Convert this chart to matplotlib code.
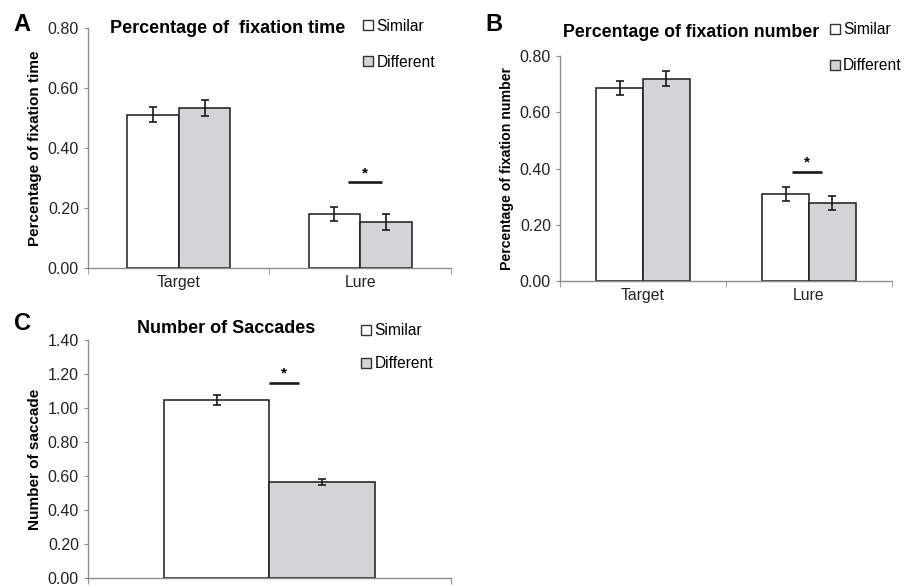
import numpy as np
import matplotlib.pyplot as plt
from matplotlib.patches import Patch
from matplotlib.ticker import FormatStrFormatter

plt.rcParams['font.family'] = ['Liberation Sans', 'DejaVu Sans']

# Panel A: percentage of fixation time
cats_a = ['Target', 'Lure']
a_sim = [0.51, 0.18]
a_sim_err = [0.025, 0.023]
a_diff = [0.533, 0.153]
a_diff_err = [0.028, 0.027]

# Panel B: percentage of fixation number
cats_b = ['Target', 'Lure']
b_sim = [0.686, 0.31]
b_sim_err = [0.025, 0.025]
b_diff = [0.72, 0.277]
b_diff_err = [0.028, 0.025]

# Panel C: number of saccades
c_sim = [1.045]
c_sim_err = [0.03]
c_diff = [0.565]
c_diff_err = [0.02]

legend_labels = ['Similar', 'Different']
sim_color = 'white'
diff_color = '#d4d4d6'
edge = '#1a1a1a'
axis_gray = '#8c8c8c'


def style_axes(ax, ymax, step):
    for s in ['top', 'right']:
        ax.spines[s].set_visible(False)
    for s in ['left', 'bottom']:
        ax.spines[s].set_color(axis_gray)
        ax.spines[s].set_linewidth(1.0)
    ax.set_ylim(0, ymax)
    ax.set_yticks(np.arange(0, ymax + 1e-9, step))
    ax.yaxis.set_major_formatter(FormatStrFormatter('%.2f'))
    ax.tick_params(axis='y', length=3, color=axis_gray, labelsize=11.5, labelcolor='#222222')
    ax.tick_params(axis='x', length=0, labelsize=11.3, labelcolor='#222222', pad=5)


def grouped(ax, cats, sim, sim_err, diff, diff_err, width):
    x = np.arange(len(cats))
    ax.bar(x - width / 2, sim, width, color=sim_color, edgecolor=edge, linewidth=1.1,
           yerr=sim_err, capsize=3, error_kw=dict(elinewidth=1.2, capthick=1.2, ecolor=edge))
    ax.bar(x + width / 2, diff, width, color=diff_color, edgecolor=edge, linewidth=1.1,
           yerr=diff_err, capsize=3, error_kw=dict(elinewidth=1.2, capthick=1.2, ecolor=edge))
    ax.set_xlim(-0.5, len(cats) - 0.5)
    ax.set_xticks(x)
    ax.set_xticklabels(cats)
    ax.set_xticks(np.arange(-0.5, len(cats)), minor=True)
    ax.tick_params(axis='x', which='minor', length=4, color=axis_gray, direction='out')


def sig(ax, x0, x1, y, star_dy):
    ax.plot([x0, x1], [y, y], color=edge, lw=1.9, solid_capstyle='butt')
    ax.text((x0 + x1) / 2, y + star_dy, '*', ha='center', va='bottom', fontsize=11, fontweight='bold')


def legend(fig, x, y, spacing):
    handles = [Patch(facecolor=sim_color, edgecolor='#333333', linewidth=1.0),
               Patch(facecolor=diff_color, edgecolor='#333333', linewidth=1.0)]
    fig.legend(handles, legend_labels, loc='upper left', bbox_to_anchor=(x, y),
               frameon=False, fontsize=11.2, handlelength=0.65, handleheight=0.65,
               handletextpad=0.2, labelspacing=spacing, borderaxespad=0, borderpad=0)


fig = plt.figure(figsize=(9.1, 5.86), dpi=100)

# A
axA = fig.add_axes([0.0967, 0.5427, 0.3989, 0.4096])
grouped(axA, cats_a, a_sim, a_sim_err, a_diff, a_diff_err, 0.285)
style_axes(axA, 0.8, 0.2)
axA.set_ylabel('Percentage of fixation time', fontsize=11, fontweight='bold', labelpad=4)
sig(axA, 0.93, 1.12, 0.287, 0.006)
fig.text(0.121, 0.952, 'Percentage of  fixation time', fontsize=13, fontweight='bold', va='center')
fig.text(0.015, 0.958, 'A', fontsize=17, fontweight='bold', va='center')
legend(fig, 0.399, 0.968, 1.35)

# B
axB = fig.add_axes([0.6154, 0.5205, 0.3648, 0.3839])
grouped(axB, cats_b, b_sim, b_sim_err, b_diff, b_diff_err, 0.283)
style_axes(axB, 0.8, 0.2)
axB.set_ylabel('Percentage of fixation number', fontsize=10.2, fontweight='bold', labelpad=4)
sig(axB, 0.9, 1.08, 0.386, 0.012)
fig.text(0.619, 0.945, 'Percentage of fixation number', fontsize=12.8, fontweight='bold', va='center')
fig.text(0.533, 0.958, 'B', fontsize=17, fontweight='bold', va='center')
legend(fig, 0.912, 0.962, 1.35)

# C
axC = fig.add_axes([0.0967, 0.0137, 0.3989, 0.4061])
x = np.arange(1)
w = 0.58
axC.bar(x - w / 2, c_sim, w, color=sim_color, edgecolor=edge, linewidth=1.1,
        yerr=c_sim_err, capsize=3, error_kw=dict(elinewidth=1.2, capthick=1.2, ecolor=edge))
axC.bar(x + w / 2, c_diff, w, color=diff_color, edgecolor=edge, linewidth=1.1,
        yerr=c_diff_err, capsize=3, error_kw=dict(elinewidth=1.2, capthick=1.2, ecolor=edge))
axC.set_xlim(-1, 1)
style_axes(axC, 1.4, 0.2)
axC.set_xticks([-1, 1])
axC.set_xticklabels([])
axC.tick_params(axis='x', length=4, color=axis_gray)
axC.set_ylabel('Number of saccade', fontsize=11, fontweight='bold', labelpad=4)
sig(axC, 0.0, 0.16, 1.147, 0.012)
fig.text(0.151, 0.44, 'Number of Saccades', fontsize=13, fontweight='bold', va='center')
fig.text(0.015, 0.448, 'C', fontsize=17, fontweight='bold', va='center')
legend(fig, 0.397, 0.448, 1.15)

fig.savefig('out.png', dpi=100)
